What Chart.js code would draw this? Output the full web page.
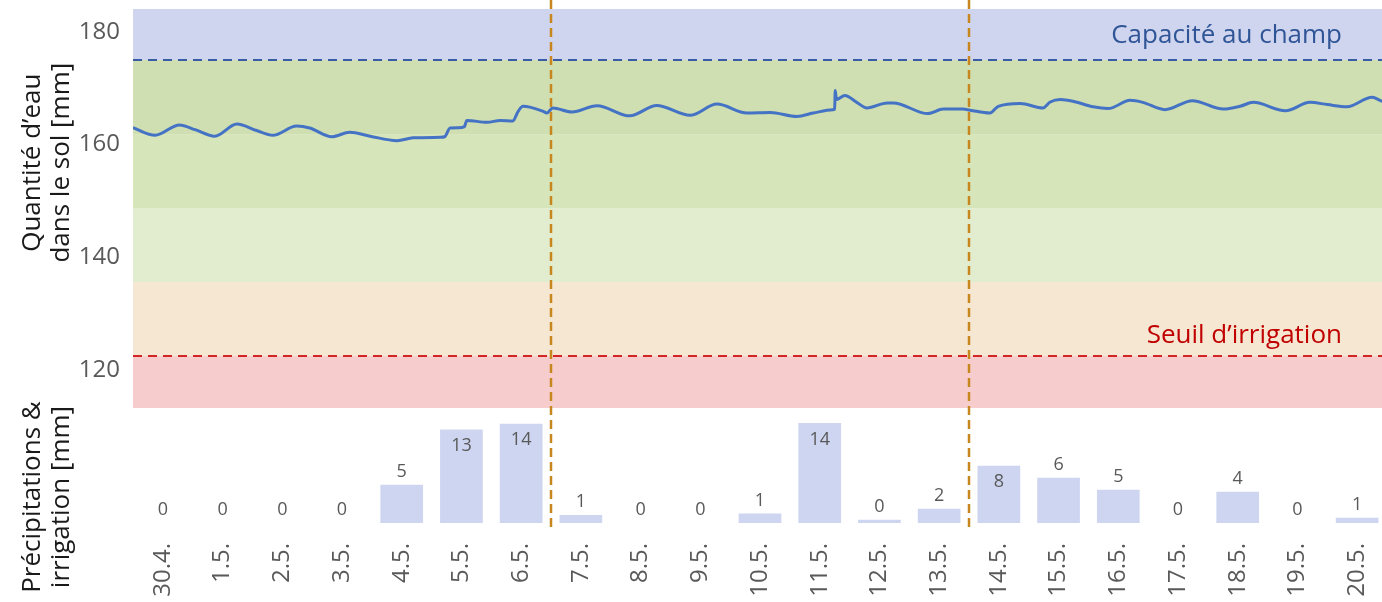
<!DOCTYPE html>
<html>
<head>
<meta charset="utf-8">
<script src="https://cdn.jsdelivr.net/npm/chart.js@4.4.1/dist/chart.umd.min.js"></script>
<style>
  html, body { margin: 0; padding: 0; background: #fff; overflow: hidden; }
  #wrap { position: relative; width: 1387px; height: 602px; }
</style>
</head>
<body>
<div id="wrap"><canvas id="soilChart"></canvas></div>
<script>
/* Soil water balance — field capacity / irrigation threshold */

const FONT = '"Open Sans", sans-serif';

/* ── DATA ───────────────────────────────────────────────────── */
const days = ['30.4.', '1.5.', '2.5.', '3.5.', '4.5.', '5.5.', '6.5.', '7.5.', '8.5.', '9.5.', '10.5.',
  '11.5.', '12.5.', '13.5.', '14.5.', '15.5.', '16.5.', '17.5.', '18.5.', '19.5.', '20.5.'];
const rain = [0, 0, 0, 0, 5.4, 13.3, 14.1, 1.1, 0, 0, 1.3, 14.2, 0.4, 2.0, 8.1, 6.4, 4.7, 0, 4.4, 0, 0.7];
const rainLabels = [0, 0, 0, 0, 5, 13, 14, 1, 0, 0, 1, 14, 0, 2, 8, 6, 5, 0, 4, 0, 1];

// soil water, time in days from 30.4. 00:00
const soilTime = [0, 0.37, 0.78, 1.04, 1.37, 1.74, 2.07, 2.34, 2.74, 2.96, 3.33, 3.63, 3.97, 4.42, 4.69,
  5.14, 5.22, 5.31, 5.45, 5.55, 5.59, 5.93, 6.15, 6.36, 6.45, 6.53, 6.87, 6.93, 7.03, 7.35, 7.77,
  8.32, 8.77, 9.33, 9.78, 10.28, 10.67, 11.12, 11.39, 11.72, 11.75, 11.76, 11.78, 11.92, 12.12,
  12.29, 12.63, 12.73, 13.31, 13.57, 13.90, 14.02, 14.35, 14.49, 14.86, 15.24, 15.36, 15.53, 15.74,
  16.08, 16.33, 16.70, 16.91, 17.28, 17.74, 18.26, 18.54, 18.76, 19.30, 19.71, 20.00, 20.33, 20.75,
  20.92, 21.0];
const soilWater = [163.0, 161.65, 163.5, 162.65, 161.5, 163.65, 162.5, 161.65, 163.3, 162.95, 161.4,
  162.2, 161.5, 160.7, 161.2, 161.3, 161.4, 162.95, 163.0, 163.2, 164.3, 163.95, 164.3, 164.2, 165.9,
  166.8, 165.9, 165.6, 166.5, 165.8, 166.9, 165.1, 166.95, 165.2, 167.2, 165.6, 165.7, 165.0, 165.6,
  166.2, 166.3, 169.6, 168.0, 168.7, 167.5, 166.5, 167.4, 167.4, 165.5, 166.3, 166.3, 166.1, 165.6,
  166.8, 167.3, 166.5, 167.55, 168.0, 167.7, 166.7, 166.4, 167.85, 167.5, 166.2, 167.8, 166.3, 166.8,
  167.5, 166.0, 167.5, 167.1, 166.7, 168.4, 167.7, 167.6];

const soilTicks = [120, 140, 160, 180];
const SOIL_MIN = 113.3;
const SOIL_MAX = 184.05;
const RAIN_MAX = 16.4;
const FIELD_CAPACITY = 175;
const IRRIGATION_THRESHOLD = 122.5;
const bandEdges = [SOIL_MAX, 175, 161.875, 148.75, 135.625, 122.5, SOIL_MIN];
const bandColors = ['#CFD5EE', '#CFDFB1', '#D7E5BB', '#E2ECCE', '#F6E7D3', '#F6CCCC'];
const markerDays = [7, 14];

/* ── PLUGINS ────────────────────────────────────────────────── */
const zones = {
  id: 'zones',
  beforeDatasetsDraw(chart) {
    const { ctx, chartArea: { left, right }, scales: { ySoil } } = chart;
    ctx.save();
    bandColors.forEach((c, i) => {
      const top = ySoil.getPixelForValue(bandEdges[i]);
      const bot = ySoil.getPixelForValue(bandEdges[i + 1]);
      ctx.fillStyle = c;
      ctx.fillRect(left, top, right - left, bot - top);
    });
    const hline = (v, color) => {
      const py = Math.round(ySoil.getPixelForValue(v));
      ctx.beginPath();
      ctx.strokeStyle = color;
      ctx.lineWidth = 2;
      ctx.setLineDash([9, 6]);
      ctx.moveTo(left, py);
      ctx.lineTo(right, py);
      ctx.stroke();
    };
    hline(FIELD_CAPACITY, '#3A5CA6');
    hline(IRRIGATION_THRESHOLD, '#D22626');
    ctx.setLineDash([]);
    ctx.font = '26px ' + FONT;
    ctx.textAlign = 'right';
    ctx.textBaseline = 'middle';
    ctx.fillStyle = '#2F5597';
    ctx.fillText('Capacité au champ', right - 45, ySoil.getPixelForValue(FIELD_CAPACITY) - 24);
    ctx.fillStyle = '#C00000';
    ctx.fillText('Seuil d’irrigation', right - 45, ySoil.getPixelForValue(IRRIGATION_THRESHOLD) - 21);
    ctx.restore();
  },
  afterDatasetsDraw(chart) {
    const { ctx, scales: { x2, yRain } } = chart;
    ctx.save();
    // bar value labels
    ctx.font = '18px ' + FONT;
    ctx.fillStyle = '#595959';
    ctx.textAlign = 'center';
    ctx.textBaseline = 'middle';
    chart.getDatasetMeta(0).data.forEach((bar, i) => {
      const y = rain[i] >= 7 ? bar.y + 16 : bar.y - 13;
      ctx.fillText(String(rainLabels[i]), bar.x, y);
    });
    // irrigation markers
    ctx.strokeStyle = '#C8861E';
    ctx.lineWidth = 2.5;
    ctx.setLineDash([9, 5]);
    markerDays.forEach(d => {
      const px = Math.round(x2.getPixelForValue(d));
      ctx.beginPath();
      ctx.moveTo(px, 0);
      ctx.lineTo(px, yRain.bottom + 6);
      ctx.stroke();
    });
    ctx.restore();
  },
  afterDraw(chart) {
    const { ctx, scales: { ySoil, yRain } } = chart;
    const title = (lines, cy) => {
      ctx.save();
      ctx.translate(0, cy);
      ctx.rotate(-Math.PI / 2);
      ctx.font = '26px ' + FONT;
      ctx.fillStyle = '#1A1A1A';
      ctx.textAlign = 'center';
      ctx.textBaseline = 'middle';
      ctx.fillText(lines[0], 0, 33);
      ctx.fillText(lines[1], 0, 62);
      ctx.restore();
    };
    title(['Quantité d’eau', 'dans le sol [mm]'], ySoil.getPixelForValue(156.8));
    title(['Précipitations &', 'irrigation [mm]'], yRain.getPixelForValue(3.7));
  }
};

const noEdgePadding = s => {
  s.paddingLeft = 0; s.paddingRight = 0; s.paddingTop = 0; s.paddingBottom = 0;
};

/* ── CHART ──────────────────────────────────────────────────── */
const ctx = document.getElementById('soilChart').getContext('2d');
new Chart(ctx, {
  type: 'bar',
  data: {
    labels: days,
    datasets: [{
      type: 'bar',
      data: rain,
      xAxisID: 'x',
      yAxisID: 'yRain',
      backgroundColor: c => (rain[c.dataIndex] > 0 ? '#CDD5F0' : 'rgba(0,0,0,0)'),
      grouped: false,
      barThickness: 42,
    }, {
      type: 'line',
      data: soilTime.map((t, i) => ({ x: t, y: soilWater[i] })),
      xAxisID: 'x2',
      yAxisID: 'ySoil',
      borderColor: '#4472C4',
      borderWidth: 3,
      pointRadius: 0,
      cubicInterpolationMode: 'monotone',
      fill: false,
    }]
  },
  options: {
    responsive: true,
    maintainAspectRatio: false,
    devicePixelRatio: 1,
    animation: false,
    layout: { padding: { top: 9, left: 0, right: 0, bottom: 0 } },
    plugins: { legend: { display: false }, tooltip: { enabled: false } },
    scales: {
      x: {
        type: 'category',
        offset: true,
        grid: { display: false, drawTicks: false },
        border: { display: false },
        ticks: {
          autoSkip: false, minRotation: 90, maxRotation: 90, padding: 20,
          color: '#595959', font: { family: FONT, size: 24 }
        },
        afterFit: s => { s.height = 79; noEdgePadding(s); }
      },
      x2: { type: 'linear', display: false, offset: false, min: 0, max: days.length },
      yRain: {
        type: 'linear', position: 'left', stack: 'panels', stackWeight: 115,
        min: 0, max: RAIN_MAX,
        grid: { display: false, drawTicks: false },
        border: { display: false },
        ticks: { display: false },
        afterFit: s => { s.width = 133; noEdgePadding(s); }
      },
      ySoil: {
        type: 'linear', position: 'left', stack: 'panels', stackWeight: 399,
        min: SOIL_MIN, max: SOIL_MAX,
        grid: { display: false, drawTicks: false },
        border: { display: false },
        ticks: { padding: 13, color: '#595959', font: { family: FONT, size: 24 } },
        afterBuildTicks: s => { s.ticks = soilTicks.map(v => ({ value: v })); },
        afterFit: s => { s.width = 133; noEdgePadding(s); }
      }
    }
  },
  plugins: [zones]
});
</script>
</body>
</html>
